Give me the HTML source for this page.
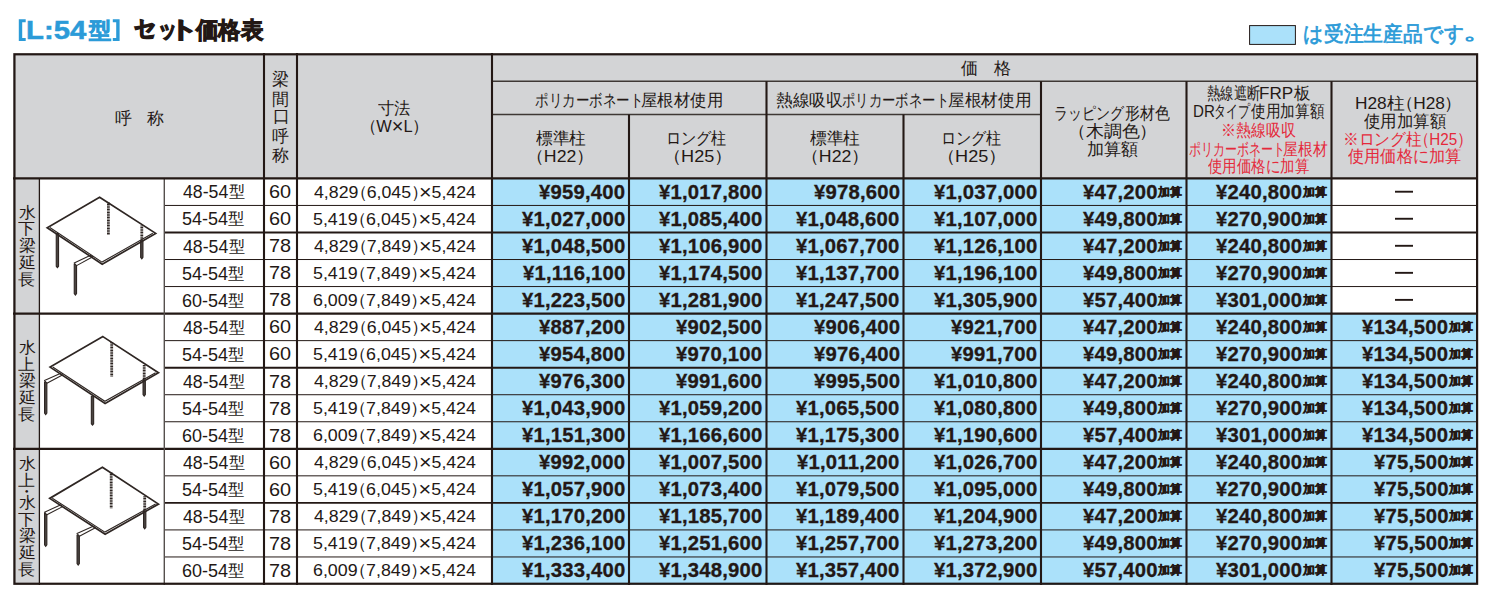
<!DOCTYPE html>
<html lang="ja">
<head>
<meta charset="utf-8">
<title>[L:54型] セット価格表</title>
<style>
html,body{margin:0;padding:0;background:#fff;}
body{width:1494px;height:600px;position:relative;overflow:hidden;font-family:"Liberation Sans",sans-serif;color:#231815;}
svg.g{position:absolute;left:0;top:0;}
.t{position:absolute;white-space:nowrap;line-height:1;transform-origin:0 0;}
.b{font-weight:bold;}
.hv{font-weight:bold;-webkit-text-stroke:0.95px #231815;}
.hk{font-weight:bold;-webkit-text-stroke:1.35px #231815;}
.tb{font-weight:bold;color:#2b9bd8;-webkit-text-stroke:0.5px #2b9bd8;}
.tk{font-weight:bold;color:#2b9bd8;-webkit-text-stroke:0.7px #2b9bd8;}
.lg{color:#2b9bd8;-webkit-text-stroke:0.7px #2b9bd8;}
.rd{color:#e5293b;}
.pr{font-weight:bold;letter-spacing:0.2px;-webkit-text-stroke:0.3px #231815;}
.x{font-size:1.22em;line-height:0;vertical-align:-0.06em;}
.ka{font-weight:bold;-webkit-text-stroke:0.4px #231815;}
.vl{}
.kt{font-size:0.9em;vertical-align:0.07em;margin-left:0.3px;}
.pl{margin-left:-0.5em;margin-right:-0.03em;}
.pq{margin-right:-0.53em;margin-left:-0.03em;}

</style>
</head>
<body>
<svg class="g" width="1494" height="600" viewBox="0 0 1494 600">
<rect x="13.00" y="53.00" width="1465.00" height="125.40" fill="#d3d4d6"/>
<rect x="13.00" y="178.40" width="26.40" height="406.60" fill="#d3d4d6"/>
<rect x="492.00" y="178.40" width="839.50" height="406.60" fill="#abe1fa"/>
<rect x="1331.50" y="313.60" width="146.50" height="271.40" fill="#abe1fa"/>
<line x1="164.00" y1="205.44" x2="1478.00" y2="205.44" stroke="#231815" stroke-width="1.0"/>
<line x1="164.00" y1="232.48" x2="1478.00" y2="232.48" stroke="#231815" stroke-width="1.9"/>
<line x1="164.00" y1="259.52" x2="1478.00" y2="259.52" stroke="#231815" stroke-width="1.0"/>
<line x1="164.00" y1="286.56" x2="1478.00" y2="286.56" stroke="#231815" stroke-width="1.0"/>
<line x1="13.00" y1="313.60" x2="1478.00" y2="313.60" stroke="#231815" stroke-width="2.2"/>
<line x1="164.00" y1="340.64" x2="1478.00" y2="340.64" stroke="#231815" stroke-width="1.0"/>
<line x1="164.00" y1="367.68" x2="1478.00" y2="367.68" stroke="#231815" stroke-width="1.9"/>
<line x1="164.00" y1="394.72" x2="1478.00" y2="394.72" stroke="#231815" stroke-width="1.0"/>
<line x1="164.00" y1="421.76" x2="1478.00" y2="421.76" stroke="#231815" stroke-width="1.0"/>
<line x1="13.00" y1="448.80" x2="1478.00" y2="448.80" stroke="#231815" stroke-width="2.2"/>
<line x1="164.00" y1="475.84" x2="1478.00" y2="475.84" stroke="#231815" stroke-width="1.0"/>
<line x1="164.00" y1="502.88" x2="1478.00" y2="502.88" stroke="#231815" stroke-width="1.9"/>
<line x1="164.00" y1="529.92" x2="1478.00" y2="529.92" stroke="#231815" stroke-width="1.0"/>
<line x1="164.00" y1="556.96" x2="1478.00" y2="556.96" stroke="#231815" stroke-width="1.0"/>
<line x1="39.40" y1="178.40" x2="39.40" y2="585.00" stroke="#231815" stroke-width="1.3"/>
<line x1="164.30" y1="178.40" x2="164.30" y2="585.00" stroke="#55504d" stroke-width="1.4"/>
<line x1="492.00" y1="81.30" x2="1478.00" y2="81.30" stroke="#3e3835" stroke-width="1.5"/>
<line x1="492.00" y1="114.60" x2="1041.00" y2="114.60" stroke="#3e3835" stroke-width="1.5"/>
<line x1="264.00" y1="53.00" x2="264.00" y2="585.00" stroke="#231815" stroke-width="2.1"/>
<line x1="297.00" y1="53.00" x2="297.00" y2="585.00" stroke="#231815" stroke-width="2.1"/>
<line x1="492.00" y1="53.00" x2="492.00" y2="585.00" stroke="#231815" stroke-width="2.1"/>
<line x1="766.50" y1="81.30" x2="766.50" y2="585.00" stroke="#231815" stroke-width="2.1"/>
<line x1="1041.00" y1="81.30" x2="1041.00" y2="585.00" stroke="#231815" stroke-width="2.1"/>
<line x1="1186.50" y1="81.30" x2="1186.50" y2="585.00" stroke="#231815" stroke-width="2.1"/>
<line x1="1331.50" y1="81.30" x2="1331.50" y2="585.00" stroke="#231815" stroke-width="2.1"/>
<line x1="629.00" y1="114.60" x2="629.00" y2="585.00" stroke="#231815" stroke-width="2.1"/>
<line x1="903.50" y1="114.60" x2="903.50" y2="585.00" stroke="#231815" stroke-width="2.1"/>
<line x1="13.00" y1="178.40" x2="1478.00" y2="178.40" stroke="#231815" stroke-width="2.2"/>
<rect x="14.45" y="54.30" width="1462.65" height="529.45" fill="none" stroke="#231815" stroke-width="2.2"/>
<rect x="1249.6" y="25.6" width="45.8" height="18.8" fill="#abe1fa" stroke="#231815" stroke-width="1"/>
<path d="M25.7,19.2H18.8V40.9H25.7V37.9H22.2V22.2H25.7Z" fill="#2b9bd8"/>
<path d="M112.8,19.2H119.6V40.9H112.8V37.9H116.19999999999999V22.2H112.8Z" fill="#2b9bd8"/>
<g><line x1="108.4" y1="202.5" x2="108.4" y2="235.0" stroke="#2e2623" stroke-width="2.8" stroke-dasharray="1.1 0.5"/><line x1="141.8" y1="225.5" x2="141.8" y2="240.5" stroke="#2e2623" stroke-width="2.8" stroke-dasharray="1.1 0.5"/><path d="M140.65,240.8V257.4L141.80,258.9L142.95,257.4V240.8Z" fill="#4a4441" stroke="#2e2623" stroke-width="1.1"/><path d="M56.25,233.5V266.2L57.40,267.7L58.55,266.2V233.5Z" fill="#4a4441" stroke="#2e2623" stroke-width="1.1"/><path d="M74.25,264.2V293.5L75.40,295.0L76.55,293.5V264.2Z" fill="#4a4441" stroke="#2e2623" stroke-width="1.1"/><path d="M74.2,263.0L90.6,255.2L92.8,256.8L76.6,265.6Z" fill="#fff" stroke="#2e2623" stroke-width="1.05" stroke-linejoin="round"/><polygon points="99.6,197.2 155.7,233.4 102.2,264.2 47.2,227.7" fill="none" stroke="#2e2623" stroke-width="1.7" stroke-linejoin="miter"/><polyline points="49.8,227.5 102.0,262.1 152.8,233.3" fill="none" stroke="#2e2623" stroke-width="1.1"/></g>
<g><line x1="111.7" y1="342.0" x2="111.7" y2="376.6" stroke="#2e2623" stroke-width="2.8" stroke-dasharray="1.1 0.5"/><line x1="144.2" y1="365.0" x2="144.2" y2="380.0" stroke="#2e2623" stroke-width="2.8" stroke-dasharray="1.1 0.5"/><path d="M143.05,380.3V394.6L144.20,396.1L145.35,394.6V380.3Z" fill="#4a4441" stroke="#2e2623" stroke-width="1.1"/><path d="M91.35,396.2V423.7L92.50,425.2L93.65,423.7V396.2Z" fill="#4a4441" stroke="#2e2623" stroke-width="1.1"/><path d="M44.55,382.0V413.1L45.70,414.6L46.85,413.1V382.0Z" fill="#4a4441" stroke="#2e2623" stroke-width="1.1"/><path d="M44.5,380.6L60.2,373.4L62.4,375.0L46.9,383.2Z" fill="#fff" stroke="#2e2623" stroke-width="1.05" stroke-linejoin="round"/><polygon points="102.9,336.6 158.5,372.8 105.1,403.4 50.1,367.1" fill="none" stroke="#2e2623" stroke-width="1.7" stroke-linejoin="miter"/><polyline points="52.7,367.0 104.9,401.3 155.6,372.7" fill="none" stroke="#2e2623" stroke-width="1.1"/></g>
<g><line x1="111.2" y1="472.5" x2="111.2" y2="508.3" stroke="#2e2623" stroke-width="2.8" stroke-dasharray="1.1 0.5"/><line x1="144.7" y1="496.2" x2="144.7" y2="511.0" stroke="#2e2623" stroke-width="2.8" stroke-dasharray="1.1 0.5"/><path d="M143.55,511.3V527.4L144.70,528.9L145.85,527.4V511.3Z" fill="#4a4441" stroke="#2e2623" stroke-width="1.1"/><path d="M44.55,513.6V544.8L45.70,546.3L46.85,544.8V513.6Z" fill="#4a4441" stroke="#2e2623" stroke-width="1.1"/><path d="M77.05,535.2V563.5L78.20,565.0L79.35,563.5V535.2Z" fill="#4a4441" stroke="#2e2623" stroke-width="1.1"/><path d="M44.5,512.2L60.4,505.0L62.6,506.6L46.9,514.8Z" fill="#fff" stroke="#2e2623" stroke-width="1.05" stroke-linejoin="round"/><path d="M77.0,533.6L93.2,526.2L95.4,527.8L79.4,536.2Z" fill="#fff" stroke="#2e2623" stroke-width="1.05" stroke-linejoin="round"/><polygon points="102.4,467.2 158.5,504.1 105.1,534.2 49.7,498.4" fill="none" stroke="#2e2623" stroke-width="1.7" stroke-linejoin="miter"/><polyline points="52.3,498.2 104.9,532.1 155.6,504.0" fill="none" stroke="#2e2623" stroke-width="1.1"/></g>
<line x1="1395.00" y1="191.72" x2="1413.00" y2="191.72" stroke="#231815" stroke-width="1.9"/>
<line x1="1395.00" y1="218.76" x2="1413.00" y2="218.76" stroke="#231815" stroke-width="1.9"/>
<line x1="1395.00" y1="245.80" x2="1413.00" y2="245.80" stroke="#231815" stroke-width="1.9"/>
<line x1="1395.00" y1="272.84" x2="1413.00" y2="272.84" stroke="#231815" stroke-width="1.9"/>
<line x1="1395.00" y1="299.88" x2="1413.00" y2="299.88" stroke="#231815" stroke-width="1.9"/>
</svg>
<div class="t tb" style="left:26.25px;top:16.65px;font-size:26px;transform:scaleX(1.127)">L:54</div>
<div class="t tk" style="left:89.10px;top:20.05px;font-size:22px;transform:scaleX(1.005)">型</div>
<div class="t hk" style="left:134.00px;top:17.30px;font-size:23px;transform:scaleX(0.959)">セ</div>
<div class="t hk" style="left:157.96px;top:17.80px;font-size:23px;transform:scaleX(0.821)">ッ</div>
<div class="t hk" style="left:169.39px;top:17.80px;font-size:23px;transform:scaleX(1.258)">ト</div>
<div class="t hv" style="left:195.78px;top:19.10px;font-size:23px;transform:scaleX(0.976)">価格表</div>
<div class="t lg" style="left:1302.76px;top:23.35px;font-size:21px;transform:scaleX(0.944)">は受注生産品です</div>
<div class="t lg" style="left:1463.34px;top:21.30px;font-size:21px;transform:scaleX(1.480)">。</div>
<div class="t" style="left:114.80px;top:109.80px;font-size:16.5px">呼</div>
<div class="t" style="left:147.00px;top:109.80px;font-size:16.5px">称</div>
<div class="t" style="left:272.30px;top:71.20px;font-size:16.5px">梁</div>
<div class="t" style="left:271.80px;top:90.50px;font-size:16.5px">間</div>
<div class="t" style="left:272.80px;top:108.10px;font-size:16.5px">口</div>
<div class="t" style="left:271.80px;top:127.70px;font-size:16.5px">呼</div>
<div class="t" style="left:271.80px;top:146.50px;font-size:16.5px">称</div>
<div class="t" style="left:378.00px;top:100.10px;font-size:16.5px;transform:scaleX(0.956)">寸法</div>
<div class="t" style="left:367.71px;top:117.80px;font-size:16.5px;transform:scaleX(0.996)"><span class="pl">（</span>W<span class="x">×</span>L<span class="pq">）</span></div>
<div class="t" style="left:961.30px;top:59.50px;font-size:16.5px">価</div>
<div class="t" style="left:994.20px;top:60.00px;font-size:16.5px">格</div>
<div class="t" style="left:534.91px;top:91.90px;font-size:16.5px;transform:scaleX(0.795)">ポリカーボネート</div>
<div class="t" style="left:641.20px;top:91.90px;font-size:16.5px;transform:scaleX(0.964)">屋根材使用</div>
<div class="t" style="left:775.92px;top:91.90px;font-size:16.5px;transform:scaleX(0.985)">熱線吸収</div>
<div class="t" style="left:842.41px;top:91.90px;font-size:16.5px;transform:scaleX(0.786)">ポリカーボネート</div>
<div class="t" style="left:948.00px;top:91.90px;font-size:16.5px;transform:scaleX(0.981)">屋根材使用</div>
<div class="t" style="left:535.80px;top:129.90px;font-size:16.5px;transform:scaleX(0.984)">標準柱</div>
<div class="t" style="left:535.18px;top:147.75px;font-size:16.5px;transform:scaleX(1.073)"><span class="pl">（</span>H22<span class="pq">）</span></div>
<div class="t" style="left:810.40px;top:129.90px;font-size:16.5px;transform:scaleX(0.984)">標準柱</div>
<div class="t" style="left:809.78px;top:147.75px;font-size:16.5px;transform:scaleX(1.073)"><span class="pl">（</span>H22<span class="pq">）</span></div>
<div class="t" style="left:666.43px;top:129.90px;font-size:16.5px;transform:scaleX(0.891)">ロング柱</div>
<div class="t" style="left:671.81px;top:147.75px;font-size:16.5px;transform:scaleX(1.098)"><span class="pl">（</span>H25<span class="pq">）</span></div>
<div class="t" style="left:941.03px;top:129.90px;font-size:16.5px;transform:scaleX(0.891)">ロング柱</div>
<div class="t" style="left:946.41px;top:147.75px;font-size:16.5px;transform:scaleX(1.098)"><span class="pl">（</span>H25<span class="pq">）</span></div>
<div class="t" style="left:1054.36px;top:104.70px;font-size:16.5px;transform:scaleX(0.819)">ラッピング</div>
<div class="t" style="left:1125.12px;top:104.70px;font-size:16.5px;transform:scaleX(0.880)">形材色</div>
<div class="t" style="left:1076.82px;top:123.00px;font-size:16.5px;transform:scaleX(1.060)"><span class="pl">（</span>木調色<span class="pq">）</span></div>
<div class="t" style="left:1087.29px;top:140.80px;font-size:16.5px;transform:scaleX(1.008)">加算額</div>
<div class="t" style="left:1206.92px;top:85.00px;font-size:16.5px;transform:scaleX(0.782)">熱線遮断</div>
<div class="t" style="left:1259.26px;top:85.00px;font-size:16.5px;transform:scaleX(1.035)">FRP</div>
<div class="t" style="left:1293.90px;top:85.00px;font-size:16.5px;transform:scaleX(0.975)">板</div>
<div class="t" style="left:1193.09px;top:103.00px;font-size:16.5px;transform:scaleX(0.914)">DR</div>
<div class="t" style="left:1213.69px;top:103.00px;font-size:16.5px;transform:scaleX(0.704)">タイプ</div>
<div class="t" style="left:1251.30px;top:103.00px;font-size:16.5px;transform:scaleX(0.861)">使用加算額</div>
<div class="t rd" style="left:1221.44px;top:122.10px;font-size:16.5px;transform:scaleX(0.882)">※熱線吸収</div>
<div class="t rd" style="left:1189.29px;top:141.30px;font-size:16.5px;transform:scaleX(0.705)">ポリカーボネート</div>
<div class="t rd" style="left:1283.13px;top:141.30px;font-size:16.5px;transform:scaleX(0.869)">屋根材</div>
<div class="t rd" style="left:1208.10px;top:157.90px;font-size:16.5px;transform:scaleX(0.851)">使用価格に加算</div>
<div class="t" style="left:1354.65px;top:95.00px;font-size:16.5px;transform:scaleX(1.048)">H28柱<span class="pl">（</span>H28<span class="pq">）</span></div>
<div class="t" style="left:1363.70px;top:112.50px;font-size:16.5px;transform:scaleX(0.968)">使用加算額</div>
<div class="t rd" style="left:1342.85px;top:131.00px;font-size:16.5px;transform:scaleX(0.924)">※ロング柱<span class="pl">（</span>H25<span class="pq">）</span></div>
<div class="t rd" style="left:1347.70px;top:147.50px;font-size:16.5px;transform:scaleX(0.952)">使用価格に加算</div>
<div class="t vl" style="left:18.60px;top:204.88px;font-size:16.5px;transform:scale(1.000,0.940)">水</div>
<div class="t vl" style="left:18.10px;top:221.11px;font-size:16.5px;transform:scale(1.000,0.940)">下</div>
<div class="t vl" style="left:18.60px;top:237.81px;font-size:16.5px;transform:scale(1.000,0.940)">梁</div>
<div class="t vl" style="left:18.60px;top:254.98px;font-size:16.5px;transform:scale(1.000,0.940)">延</div>
<div class="t vl" style="left:18.10px;top:271.68px;font-size:16.5px;transform:scale(1.000,0.940)">長</div>
<div class="t vl" style="left:18.60px;top:339.88px;font-size:16.5px;transform:scale(1.000,0.940)">水</div>
<div class="t vl" style="left:18.10px;top:357.15px;font-size:16.5px;transform:scale(1.000,0.940)">上</div>
<div class="t vl" style="left:18.60px;top:373.01px;font-size:16.5px;transform:scale(1.000,0.940)">梁</div>
<div class="t vl" style="left:18.60px;top:390.28px;font-size:16.5px;transform:scale(1.000,0.940)">延</div>
<div class="t vl" style="left:18.10px;top:407.08px;font-size:16.5px;transform:scale(1.000,0.940)">長</div>
<div class="t vl" style="left:18.60px;top:456.48px;font-size:16.5px;transform:scale(1.000,0.940)">水</div>
<div class="t vl" style="left:18.10px;top:473.25px;font-size:16.5px;transform:scale(1.000,0.940)">上</div>
<div class="t vl" style="left:18.10px;top:483.61px;font-size:16.5px;transform:scale(1.000,0.940)">・</div>
<div class="t vl" style="left:18.60px;top:495.48px;font-size:16.5px;transform:scale(1.000,0.940)">水</div>
<div class="t vl" style="left:18.10px;top:511.81px;font-size:16.5px;transform:scale(1.000,0.940)">下</div>
<div class="t vl" style="left:18.60px;top:528.41px;font-size:16.5px;transform:scale(1.000,0.940)">梁</div>
<div class="t vl" style="left:18.60px;top:545.38px;font-size:16.5px;transform:scale(1.000,0.940)">延</div>
<div class="t vl" style="left:18.10px;top:561.88px;font-size:16.5px;transform:scale(1.000,0.940)">長</div>
<div class="t" style="left:182.70px;top:184.42px;font-size:17.5px;transform:scaleX(1.010)">48-54<span class="kt">型</span></div>
<div class="t" style="left:268.83px;top:183.22px;font-size:18.5px;transform:scaleX(1.074)">60</div>
<div class="t" style="left:313.60px;top:183.92px;font-size:17.0px;transform:scaleX(1.043)">4,829<span class="pl">（</span>6,045<span class="pq">）</span><span class="x">×</span>5,424</div>
<div class="t pr" style="left:539.21px;top:181.82px;font-size:20px;transform:scaleX(1.014)">¥959,400</div>
<div class="t pr" style="left:659.17px;top:181.82px;font-size:20px;transform:scaleX(1.014)">¥1,017,800</div>
<div class="t pr" style="left:813.61px;top:181.82px;font-size:20px;transform:scaleX(1.014)">¥978,600</div>
<div class="t pr" style="left:933.77px;top:181.82px;font-size:20px;transform:scaleX(1.014)">¥1,037,000</div>
<div class="t ka" style="left:1158.00px;top:185.62px;font-size:12px">加算</div>
<div class="t pr" style="left:1083.08px;top:181.82px;font-size:20px;transform:scaleX(1.014)">¥47,200</div>
<div class="t ka" style="left:1303.00px;top:185.62px;font-size:12px">加算</div>
<div class="t pr" style="left:1215.91px;top:181.82px;font-size:20px;transform:scaleX(1.014)">¥240,800</div>
<div class="t" style="left:181.67px;top:211.46px;font-size:17.5px;transform:scaleX(1.027)">54-54<span class="kt">型</span></div>
<div class="t" style="left:268.83px;top:210.26px;font-size:18.5px;transform:scaleX(1.074)">60</div>
<div class="t" style="left:312.55px;top:210.96px;font-size:17.0px;transform:scaleX(1.049)">5,419<span class="pl">（</span>6,045<span class="pq">）</span><span class="x">×</span>5,424</div>
<div class="t pr" style="left:521.97px;top:208.86px;font-size:20px;transform:scaleX(1.014)">¥1,027,000</div>
<div class="t pr" style="left:659.17px;top:208.86px;font-size:20px;transform:scaleX(1.014)">¥1,085,400</div>
<div class="t pr" style="left:796.37px;top:208.86px;font-size:20px;transform:scaleX(1.014)">¥1,048,600</div>
<div class="t pr" style="left:933.77px;top:208.86px;font-size:20px;transform:scaleX(1.014)">¥1,107,000</div>
<div class="t ka" style="left:1158.00px;top:212.66px;font-size:12px">加算</div>
<div class="t pr" style="left:1083.08px;top:208.86px;font-size:20px;transform:scaleX(1.014)">¥49,800</div>
<div class="t ka" style="left:1303.00px;top:212.66px;font-size:12px">加算</div>
<div class="t pr" style="left:1215.91px;top:208.86px;font-size:20px;transform:scaleX(1.014)">¥270,900</div>
<div class="t" style="left:182.70px;top:238.50px;font-size:17.5px;transform:scaleX(1.010)">48-54<span class="kt">型</span></div>
<div class="t" style="left:268.83px;top:237.30px;font-size:18.5px;transform:scaleX(1.074)">78</div>
<div class="t" style="left:313.60px;top:238.00px;font-size:17.0px;transform:scaleX(1.043)">4,829<span class="pl">（</span>7,849<span class="pq">）</span><span class="x">×</span>5,424</div>
<div class="t pr" style="left:521.97px;top:235.90px;font-size:20px;transform:scaleX(1.014)">¥1,048,500</div>
<div class="t pr" style="left:659.17px;top:235.90px;font-size:20px;transform:scaleX(1.014)">¥1,106,900</div>
<div class="t pr" style="left:796.37px;top:235.90px;font-size:20px;transform:scaleX(1.014)">¥1,067,700</div>
<div class="t pr" style="left:933.77px;top:235.90px;font-size:20px;transform:scaleX(1.014)">¥1,126,100</div>
<div class="t ka" style="left:1158.00px;top:239.70px;font-size:12px">加算</div>
<div class="t pr" style="left:1083.08px;top:235.90px;font-size:20px;transform:scaleX(1.014)">¥47,200</div>
<div class="t ka" style="left:1303.00px;top:239.70px;font-size:12px">加算</div>
<div class="t pr" style="left:1215.91px;top:235.90px;font-size:20px;transform:scaleX(1.014)">¥240,800</div>
<div class="t" style="left:181.67px;top:265.54px;font-size:17.5px;transform:scaleX(1.027)">54-54<span class="kt">型</span></div>
<div class="t" style="left:268.83px;top:264.34px;font-size:18.5px;transform:scaleX(1.074)">78</div>
<div class="t" style="left:312.55px;top:265.04px;font-size:17.0px;transform:scaleX(1.049)">5,419<span class="pl">（</span>7,849<span class="pq">）</span><span class="x">×</span>5,424</div>
<div class="t pr" style="left:522.99px;top:262.94px;font-size:20px;transform:scaleX(1.014)">¥1,116,100</div>
<div class="t pr" style="left:659.17px;top:262.94px;font-size:20px;transform:scaleX(1.014)">¥1,174,500</div>
<div class="t pr" style="left:796.37px;top:262.94px;font-size:20px;transform:scaleX(1.014)">¥1,137,700</div>
<div class="t pr" style="left:933.77px;top:262.94px;font-size:20px;transform:scaleX(1.014)">¥1,196,100</div>
<div class="t ka" style="left:1158.00px;top:266.74px;font-size:12px">加算</div>
<div class="t pr" style="left:1083.08px;top:262.94px;font-size:20px;transform:scaleX(1.014)">¥49,800</div>
<div class="t ka" style="left:1303.00px;top:266.74px;font-size:12px">加算</div>
<div class="t pr" style="left:1215.91px;top:262.94px;font-size:20px;transform:scaleX(1.014)">¥270,900</div>
<div class="t" style="left:181.67px;top:292.58px;font-size:17.5px;transform:scaleX(1.027)">60-54<span class="kt">型</span></div>
<div class="t" style="left:268.83px;top:291.38px;font-size:18.5px;transform:scaleX(1.074)">78</div>
<div class="t" style="left:312.55px;top:292.08px;font-size:17.0px;transform:scaleX(1.049)">6,009<span class="pl">（</span>7,849<span class="pq">）</span><span class="x">×</span>5,424</div>
<div class="t pr" style="left:521.97px;top:289.98px;font-size:20px;transform:scaleX(1.014)">¥1,223,500</div>
<div class="t pr" style="left:659.17px;top:289.98px;font-size:20px;transform:scaleX(1.014)">¥1,281,900</div>
<div class="t pr" style="left:796.37px;top:289.98px;font-size:20px;transform:scaleX(1.014)">¥1,247,500</div>
<div class="t pr" style="left:933.77px;top:289.98px;font-size:20px;transform:scaleX(1.014)">¥1,305,900</div>
<div class="t ka" style="left:1158.00px;top:293.78px;font-size:12px">加算</div>
<div class="t pr" style="left:1083.08px;top:289.98px;font-size:20px;transform:scaleX(1.014)">¥57,400</div>
<div class="t ka" style="left:1303.00px;top:293.78px;font-size:12px">加算</div>
<div class="t pr" style="left:1215.91px;top:289.98px;font-size:20px;transform:scaleX(1.014)">¥301,000</div>
<div class="t" style="left:182.70px;top:319.62px;font-size:17.5px;transform:scaleX(1.010)">48-54<span class="kt">型</span></div>
<div class="t" style="left:268.83px;top:318.42px;font-size:18.5px;transform:scaleX(1.074)">60</div>
<div class="t" style="left:313.60px;top:319.12px;font-size:17.0px;transform:scaleX(1.043)">4,829<span class="pl">（</span>6,045<span class="pq">）</span><span class="x">×</span>5,424</div>
<div class="t pr" style="left:539.21px;top:317.02px;font-size:20px;transform:scaleX(1.014)">¥887,200</div>
<div class="t pr" style="left:676.41px;top:317.02px;font-size:20px;transform:scaleX(1.014)">¥902,500</div>
<div class="t pr" style="left:813.61px;top:317.02px;font-size:20px;transform:scaleX(1.014)">¥906,400</div>
<div class="t pr" style="left:951.01px;top:317.02px;font-size:20px;transform:scaleX(1.014)">¥921,700</div>
<div class="t ka" style="left:1158.00px;top:320.82px;font-size:12px">加算</div>
<div class="t pr" style="left:1083.08px;top:317.02px;font-size:20px;transform:scaleX(1.014)">¥47,200</div>
<div class="t ka" style="left:1303.00px;top:320.82px;font-size:12px">加算</div>
<div class="t pr" style="left:1215.91px;top:317.02px;font-size:20px;transform:scaleX(1.014)">¥240,800</div>
<div class="t ka" style="left:1448.70px;top:320.82px;font-size:12px">加算</div>
<div class="t pr" style="left:1361.61px;top:317.02px;font-size:20px;transform:scaleX(1.014)">¥134,500</div>
<div class="t" style="left:181.67px;top:346.66px;font-size:17.5px;transform:scaleX(1.027)">54-54<span class="kt">型</span></div>
<div class="t" style="left:268.83px;top:345.46px;font-size:18.5px;transform:scaleX(1.074)">60</div>
<div class="t" style="left:312.55px;top:346.16px;font-size:17.0px;transform:scaleX(1.049)">5,419<span class="pl">（</span>6,045<span class="pq">）</span><span class="x">×</span>5,424</div>
<div class="t pr" style="left:539.21px;top:344.06px;font-size:20px;transform:scaleX(1.014)">¥954,800</div>
<div class="t pr" style="left:676.41px;top:344.06px;font-size:20px;transform:scaleX(1.014)">¥970,100</div>
<div class="t pr" style="left:813.61px;top:344.06px;font-size:20px;transform:scaleX(1.014)">¥976,400</div>
<div class="t pr" style="left:951.01px;top:344.06px;font-size:20px;transform:scaleX(1.014)">¥991,700</div>
<div class="t ka" style="left:1158.00px;top:347.86px;font-size:12px">加算</div>
<div class="t pr" style="left:1083.08px;top:344.06px;font-size:20px;transform:scaleX(1.014)">¥49,800</div>
<div class="t ka" style="left:1303.00px;top:347.86px;font-size:12px">加算</div>
<div class="t pr" style="left:1215.91px;top:344.06px;font-size:20px;transform:scaleX(1.014)">¥270,900</div>
<div class="t ka" style="left:1448.70px;top:347.86px;font-size:12px">加算</div>
<div class="t pr" style="left:1361.61px;top:344.06px;font-size:20px;transform:scaleX(1.014)">¥134,500</div>
<div class="t" style="left:182.70px;top:373.70px;font-size:17.5px;transform:scaleX(1.010)">48-54<span class="kt">型</span></div>
<div class="t" style="left:268.83px;top:372.50px;font-size:18.5px;transform:scaleX(1.074)">78</div>
<div class="t" style="left:313.60px;top:373.20px;font-size:17.0px;transform:scaleX(1.043)">4,829<span class="pl">（</span>7,849<span class="pq">）</span><span class="x">×</span>5,424</div>
<div class="t pr" style="left:539.21px;top:371.10px;font-size:20px;transform:scaleX(1.014)">¥976,300</div>
<div class="t pr" style="left:676.41px;top:371.10px;font-size:20px;transform:scaleX(1.014)">¥991,600</div>
<div class="t pr" style="left:813.61px;top:371.10px;font-size:20px;transform:scaleX(1.014)">¥995,500</div>
<div class="t pr" style="left:933.77px;top:371.10px;font-size:20px;transform:scaleX(1.014)">¥1,010,800</div>
<div class="t ka" style="left:1158.00px;top:374.90px;font-size:12px">加算</div>
<div class="t pr" style="left:1083.08px;top:371.10px;font-size:20px;transform:scaleX(1.014)">¥47,200</div>
<div class="t ka" style="left:1303.00px;top:374.90px;font-size:12px">加算</div>
<div class="t pr" style="left:1215.91px;top:371.10px;font-size:20px;transform:scaleX(1.014)">¥240,800</div>
<div class="t ka" style="left:1448.70px;top:374.90px;font-size:12px">加算</div>
<div class="t pr" style="left:1361.61px;top:371.10px;font-size:20px;transform:scaleX(1.014)">¥134,500</div>
<div class="t" style="left:181.67px;top:400.74px;font-size:17.5px;transform:scaleX(1.027)">54-54<span class="kt">型</span></div>
<div class="t" style="left:268.83px;top:399.54px;font-size:18.5px;transform:scaleX(1.074)">78</div>
<div class="t" style="left:312.55px;top:400.24px;font-size:17.0px;transform:scaleX(1.049)">5,419<span class="pl">（</span>7,849<span class="pq">）</span><span class="x">×</span>5,424</div>
<div class="t pr" style="left:521.97px;top:398.14px;font-size:20px;transform:scaleX(1.014)">¥1,043,900</div>
<div class="t pr" style="left:659.17px;top:398.14px;font-size:20px;transform:scaleX(1.014)">¥1,059,200</div>
<div class="t pr" style="left:796.37px;top:398.14px;font-size:20px;transform:scaleX(1.014)">¥1,065,500</div>
<div class="t pr" style="left:933.77px;top:398.14px;font-size:20px;transform:scaleX(1.014)">¥1,080,800</div>
<div class="t ka" style="left:1158.00px;top:401.94px;font-size:12px">加算</div>
<div class="t pr" style="left:1083.08px;top:398.14px;font-size:20px;transform:scaleX(1.014)">¥49,800</div>
<div class="t ka" style="left:1303.00px;top:401.94px;font-size:12px">加算</div>
<div class="t pr" style="left:1215.91px;top:398.14px;font-size:20px;transform:scaleX(1.014)">¥270,900</div>
<div class="t ka" style="left:1448.70px;top:401.94px;font-size:12px">加算</div>
<div class="t pr" style="left:1361.61px;top:398.14px;font-size:20px;transform:scaleX(1.014)">¥134,500</div>
<div class="t" style="left:181.67px;top:427.78px;font-size:17.5px;transform:scaleX(1.027)">60-54<span class="kt">型</span></div>
<div class="t" style="left:268.83px;top:426.58px;font-size:18.5px;transform:scaleX(1.074)">78</div>
<div class="t" style="left:312.55px;top:427.28px;font-size:17.0px;transform:scaleX(1.049)">6,009<span class="pl">（</span>7,849<span class="pq">）</span><span class="x">×</span>5,424</div>
<div class="t pr" style="left:521.97px;top:425.18px;font-size:20px;transform:scaleX(1.014)">¥1,151,300</div>
<div class="t pr" style="left:659.17px;top:425.18px;font-size:20px;transform:scaleX(1.014)">¥1,166,600</div>
<div class="t pr" style="left:796.37px;top:425.18px;font-size:20px;transform:scaleX(1.014)">¥1,175,300</div>
<div class="t pr" style="left:933.77px;top:425.18px;font-size:20px;transform:scaleX(1.014)">¥1,190,600</div>
<div class="t ka" style="left:1158.00px;top:428.98px;font-size:12px">加算</div>
<div class="t pr" style="left:1083.08px;top:425.18px;font-size:20px;transform:scaleX(1.014)">¥57,400</div>
<div class="t ka" style="left:1303.00px;top:428.98px;font-size:12px">加算</div>
<div class="t pr" style="left:1215.91px;top:425.18px;font-size:20px;transform:scaleX(1.014)">¥301,000</div>
<div class="t ka" style="left:1448.70px;top:428.98px;font-size:12px">加算</div>
<div class="t pr" style="left:1361.61px;top:425.18px;font-size:20px;transform:scaleX(1.014)">¥134,500</div>
<div class="t" style="left:182.70px;top:454.82px;font-size:17.5px;transform:scaleX(1.010)">48-54<span class="kt">型</span></div>
<div class="t" style="left:268.83px;top:453.62px;font-size:18.5px;transform:scaleX(1.074)">60</div>
<div class="t" style="left:313.60px;top:454.32px;font-size:17.0px;transform:scaleX(1.043)">4,829<span class="pl">（</span>6,045<span class="pq">）</span><span class="x">×</span>5,424</div>
<div class="t pr" style="left:539.21px;top:452.22px;font-size:20px;transform:scaleX(1.014)">¥992,000</div>
<div class="t pr" style="left:659.17px;top:452.22px;font-size:20px;transform:scaleX(1.014)">¥1,007,500</div>
<div class="t pr" style="left:797.39px;top:452.22px;font-size:20px;transform:scaleX(1.014)">¥1,011,200</div>
<div class="t pr" style="left:933.77px;top:452.22px;font-size:20px;transform:scaleX(1.014)">¥1,026,700</div>
<div class="t ka" style="left:1158.00px;top:456.02px;font-size:12px">加算</div>
<div class="t pr" style="left:1083.08px;top:452.22px;font-size:20px;transform:scaleX(1.014)">¥47,200</div>
<div class="t ka" style="left:1303.00px;top:456.02px;font-size:12px">加算</div>
<div class="t pr" style="left:1215.91px;top:452.22px;font-size:20px;transform:scaleX(1.014)">¥240,800</div>
<div class="t ka" style="left:1448.70px;top:456.02px;font-size:12px">加算</div>
<div class="t pr" style="left:1373.78px;top:452.22px;font-size:20px;transform:scaleX(1.014)">¥75,500</div>
<div class="t" style="left:181.67px;top:481.86px;font-size:17.5px;transform:scaleX(1.027)">54-54<span class="kt">型</span></div>
<div class="t" style="left:268.83px;top:480.66px;font-size:18.5px;transform:scaleX(1.074)">60</div>
<div class="t" style="left:312.55px;top:481.36px;font-size:17.0px;transform:scaleX(1.049)">5,419<span class="pl">（</span>6,045<span class="pq">）</span><span class="x">×</span>5,424</div>
<div class="t pr" style="left:521.97px;top:479.26px;font-size:20px;transform:scaleX(1.014)">¥1,057,900</div>
<div class="t pr" style="left:659.17px;top:479.26px;font-size:20px;transform:scaleX(1.014)">¥1,073,400</div>
<div class="t pr" style="left:796.37px;top:479.26px;font-size:20px;transform:scaleX(1.014)">¥1,079,500</div>
<div class="t pr" style="left:933.77px;top:479.26px;font-size:20px;transform:scaleX(1.014)">¥1,095,000</div>
<div class="t ka" style="left:1158.00px;top:483.06px;font-size:12px">加算</div>
<div class="t pr" style="left:1083.08px;top:479.26px;font-size:20px;transform:scaleX(1.014)">¥49,800</div>
<div class="t ka" style="left:1303.00px;top:483.06px;font-size:12px">加算</div>
<div class="t pr" style="left:1215.91px;top:479.26px;font-size:20px;transform:scaleX(1.014)">¥270,900</div>
<div class="t ka" style="left:1448.70px;top:483.06px;font-size:12px">加算</div>
<div class="t pr" style="left:1373.78px;top:479.26px;font-size:20px;transform:scaleX(1.014)">¥75,500</div>
<div class="t" style="left:182.70px;top:508.90px;font-size:17.5px;transform:scaleX(1.010)">48-54<span class="kt">型</span></div>
<div class="t" style="left:268.83px;top:507.70px;font-size:18.5px;transform:scaleX(1.074)">78</div>
<div class="t" style="left:313.60px;top:508.40px;font-size:17.0px;transform:scaleX(1.043)">4,829<span class="pl">（</span>7,849<span class="pq">）</span><span class="x">×</span>5,424</div>
<div class="t pr" style="left:521.97px;top:506.30px;font-size:20px;transform:scaleX(1.014)">¥1,170,200</div>
<div class="t pr" style="left:659.17px;top:506.30px;font-size:20px;transform:scaleX(1.014)">¥1,185,700</div>
<div class="t pr" style="left:796.37px;top:506.30px;font-size:20px;transform:scaleX(1.014)">¥1,189,400</div>
<div class="t pr" style="left:933.77px;top:506.30px;font-size:20px;transform:scaleX(1.014)">¥1,204,900</div>
<div class="t ka" style="left:1158.00px;top:510.10px;font-size:12px">加算</div>
<div class="t pr" style="left:1083.08px;top:506.30px;font-size:20px;transform:scaleX(1.014)">¥47,200</div>
<div class="t ka" style="left:1303.00px;top:510.10px;font-size:12px">加算</div>
<div class="t pr" style="left:1215.91px;top:506.30px;font-size:20px;transform:scaleX(1.014)">¥240,800</div>
<div class="t ka" style="left:1448.70px;top:510.10px;font-size:12px">加算</div>
<div class="t pr" style="left:1373.78px;top:506.30px;font-size:20px;transform:scaleX(1.014)">¥75,500</div>
<div class="t" style="left:181.67px;top:535.94px;font-size:17.5px;transform:scaleX(1.027)">54-54<span class="kt">型</span></div>
<div class="t" style="left:268.83px;top:534.74px;font-size:18.5px;transform:scaleX(1.074)">78</div>
<div class="t" style="left:312.55px;top:535.44px;font-size:17.0px;transform:scaleX(1.049)">5,419<span class="pl">（</span>7,849<span class="pq">）</span><span class="x">×</span>5,424</div>
<div class="t pr" style="left:521.97px;top:533.34px;font-size:20px;transform:scaleX(1.014)">¥1,236,100</div>
<div class="t pr" style="left:659.17px;top:533.34px;font-size:20px;transform:scaleX(1.014)">¥1,251,600</div>
<div class="t pr" style="left:796.37px;top:533.34px;font-size:20px;transform:scaleX(1.014)">¥1,257,700</div>
<div class="t pr" style="left:933.77px;top:533.34px;font-size:20px;transform:scaleX(1.014)">¥1,273,200</div>
<div class="t ka" style="left:1158.00px;top:537.14px;font-size:12px">加算</div>
<div class="t pr" style="left:1083.08px;top:533.34px;font-size:20px;transform:scaleX(1.014)">¥49,800</div>
<div class="t ka" style="left:1303.00px;top:537.14px;font-size:12px">加算</div>
<div class="t pr" style="left:1215.91px;top:533.34px;font-size:20px;transform:scaleX(1.014)">¥270,900</div>
<div class="t ka" style="left:1448.70px;top:537.14px;font-size:12px">加算</div>
<div class="t pr" style="left:1373.78px;top:533.34px;font-size:20px;transform:scaleX(1.014)">¥75,500</div>
<div class="t" style="left:181.67px;top:562.98px;font-size:17.5px;transform:scaleX(1.027)">60-54<span class="kt">型</span></div>
<div class="t" style="left:268.83px;top:561.78px;font-size:18.5px;transform:scaleX(1.074)">78</div>
<div class="t" style="left:312.55px;top:562.48px;font-size:17.0px;transform:scaleX(1.049)">6,009<span class="pl">（</span>7,849<span class="pq">）</span><span class="x">×</span>5,424</div>
<div class="t pr" style="left:521.97px;top:560.38px;font-size:20px;transform:scaleX(1.014)">¥1,333,400</div>
<div class="t pr" style="left:659.17px;top:560.38px;font-size:20px;transform:scaleX(1.014)">¥1,348,900</div>
<div class="t pr" style="left:796.37px;top:560.38px;font-size:20px;transform:scaleX(1.014)">¥1,357,400</div>
<div class="t pr" style="left:933.77px;top:560.38px;font-size:20px;transform:scaleX(1.014)">¥1,372,900</div>
<div class="t ka" style="left:1158.00px;top:564.18px;font-size:12px">加算</div>
<div class="t pr" style="left:1083.08px;top:560.38px;font-size:20px;transform:scaleX(1.014)">¥57,400</div>
<div class="t ka" style="left:1303.00px;top:564.18px;font-size:12px">加算</div>
<div class="t pr" style="left:1215.91px;top:560.38px;font-size:20px;transform:scaleX(1.014)">¥301,000</div>
<div class="t ka" style="left:1448.70px;top:564.18px;font-size:12px">加算</div>
<div class="t pr" style="left:1373.78px;top:560.38px;font-size:20px;transform:scaleX(1.014)">¥75,500</div>
</body>
</html>
